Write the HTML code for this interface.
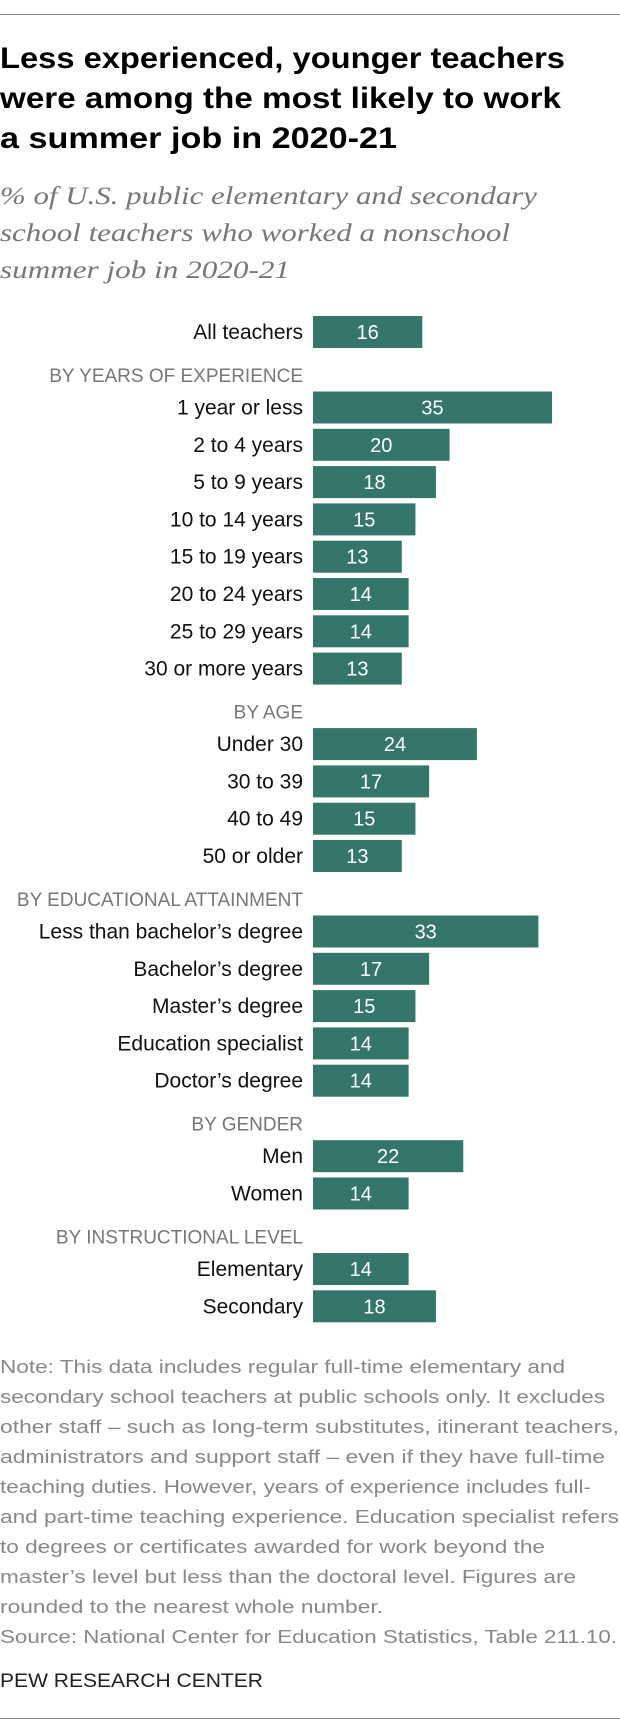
<!DOCTYPE html>
<html><head><meta charset="utf-8">
<style>
html,body{margin:0;padding:0;background:#fff;}
svg{display:block;}
.t{font-family:"Liberation Sans",sans-serif;font-weight:bold;font-size:30px;fill:#000;}
.s{font-family:"Liberation Serif",serif;font-style:italic;font-size:25px;fill:#777;}
.lab{font-family:"Liberation Sans",sans-serif;font-size:21px;fill:#111;}
.hdr{font-family:"Liberation Sans",sans-serif;font-size:19px;fill:#777;}
.val{font-family:"Liberation Sans",sans-serif;font-size:20px;fill:#fff;}
.note{font-family:"Liberation Sans",sans-serif;font-size:18px;fill:#888;}
.pew{font-family:"Liberation Sans",sans-serif;font-size:19px;fill:#222;}
</style></head>
<body>
<svg id="chart" width="620" height="1736" viewBox="0 0 620 1736" xmlns="http://www.w3.org/2000/svg">
<line x1="0" y1="14.5" x2="620" y2="14.5" stroke="#888" stroke-width="1"/>
<g>
<text class="t" x="0" y="68" textLength="565" lengthAdjust="spacingAndGlyphs">Less experienced, younger teachers</text>
<text class="t" x="0" y="108" textLength="561" lengthAdjust="spacingAndGlyphs">were among the most likely to work</text>
<text class="t" x="0" y="148" textLength="397" lengthAdjust="spacingAndGlyphs">a summer job in 2020-21</text>
</g>
<g>
<text class="s" x="0" y="204" textLength="537" lengthAdjust="spacingAndGlyphs">% of U.S. public elementary and secondary</text>
<text class="s" x="0" y="241" textLength="510" lengthAdjust="spacingAndGlyphs">school teachers who worked a nonschool</text>
<text class="s" x="0" y="278" textLength="290" lengthAdjust="spacingAndGlyphs">summer job in 2020-21</text>
</g>
<g id="bars"></g>
<g>
<text class="note" x="0" y="1373" textLength="565" lengthAdjust="spacingAndGlyphs">Note: This data includes regular full-time elementary and</text>
<text class="note" x="0" y="1403" textLength="605" lengthAdjust="spacingAndGlyphs">secondary school teachers at public schools only. It excludes</text>
<text class="note" x="0" y="1433" textLength="619" lengthAdjust="spacingAndGlyphs">other staff – such as long-term substitutes, itinerant teachers,</text>
<text class="note" x="0" y="1463" textLength="605" lengthAdjust="spacingAndGlyphs">administrators and support staff – even if they have full-time</text>
<text class="note" x="0" y="1493" textLength="591" lengthAdjust="spacingAndGlyphs">teaching duties. However, years of experience includes full-</text>
<text class="note" x="0" y="1523" textLength="619" lengthAdjust="spacingAndGlyphs">and part-time teaching experience. Education specialist refers</text>
<text class="note" x="0" y="1553" textLength="545" lengthAdjust="spacingAndGlyphs">to degrees or certificates awarded for work beyond the</text>
<text class="note" x="0" y="1583" textLength="576" lengthAdjust="spacingAndGlyphs">master’s level but less than the doctoral level. Figures are</text>
<text class="note" x="0" y="1613" textLength="383" lengthAdjust="spacingAndGlyphs">rounded to the nearest whole number.</text>
<text class="note" x="0" y="1643" textLength="617" lengthAdjust="spacingAndGlyphs">Source: National Center for Education Statistics, Table 211.10.</text>
</g>
<text class="pew" x="0" y="1687" textLength="263" lengthAdjust="spacingAndGlyphs">PEW RESEARCH CENTER</text>
<line x1="0" y1="1718.5" x2="620" y2="1718.5" stroke="#888" stroke-width="1"/>
</svg>
<script>
const categories = ["All teachers","1 year or less","2 to 4 years","5 to 9 years","10 to 14 years","15 to 19 years","20 to 24 years","25 to 29 years","30 or more years","Under 30","30 to 39","40 to 49","50 or older","Less than bachelor’s degree","Bachelor’s degree","Master’s degree","Education specialist","Doctor’s degree","Men","Women","Elementary","Secondary"];
const values = [16,35,20,18,15,13,14,14,13,24,17,15,13,33,17,15,14,14,22,14,14,18];
const groups = ["","exp","exp","exp","exp","exp","exp","exp","exp","age","age","age","age","edu","edu","edu","edu","edu","gen","gen","ins","ins"];
const groupTitles = ["BY YEARS OF EXPERIENCE","BY AGE","BY EDUCATIONAL ATTAINMENT","BY GENDER","BY INSTRUCTIONAL LEVEL"];

const NS = "http://www.w3.org/2000/svg";
const g = document.getElementById("bars");
const x0 = 313, unit = 6.83, rowH = 37.3, barH = 32;
function xScale(v){ return v * unit; }
let y = 332, prev = null, gi = 0;
categories.forEach((c, i) => {
  if (i > 0) {
    if (groups[i] !== prev) {
      y += 44;
      const h = document.createElementNS(NS, "text");
      h.setAttribute("class", "hdr");
      h.setAttribute("x", 303);
      h.setAttribute("y", y + 6);
      h.setAttribute("text-anchor", "end");
      
      
      h.textContent = groupTitles[gi++];
      g.appendChild(h);
      y += 31.5;
    } else {
      y += rowH;
    }
  }
  prev = groups[i];
  const lab = document.createElementNS(NS, "text");
  lab.setAttribute("class", "lab");
  lab.setAttribute("x", 303);
  lab.setAttribute("y", y + 7);
  lab.setAttribute("text-anchor", "end");
  
  
  lab.textContent = c;
  g.appendChild(lab);
  const r = document.createElementNS(NS, "rect");
  r.setAttribute("x", x0);
  r.setAttribute("y", y - barH/2);
  r.setAttribute("width", xScale(values[i]));
  r.setAttribute("height", barH);
  r.setAttribute("fill", "#35766a");
  
  
  g.appendChild(r);
  const t = document.createElementNS(NS, "text");
  t.setAttribute("class", "val");
  t.setAttribute("x", x0 + xScale(values[i]) / 2);
  t.setAttribute("y", y + 7);
  t.setAttribute("text-anchor", "middle");
  
  
  t.textContent = values[i];
  g.appendChild(t);
});
</script>
</body></html>
